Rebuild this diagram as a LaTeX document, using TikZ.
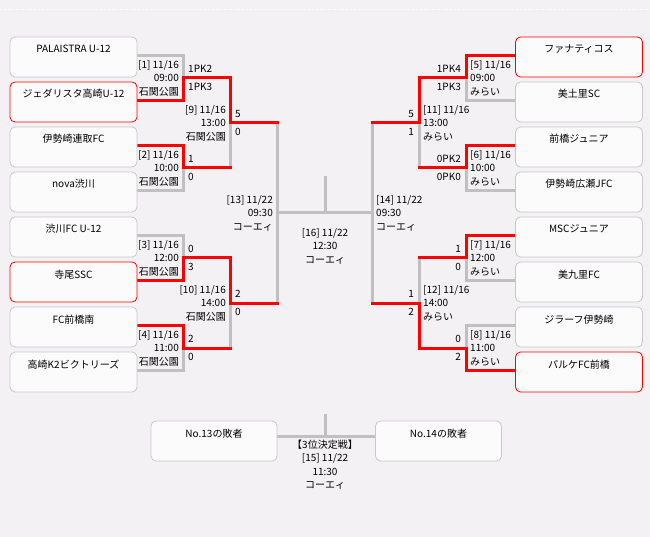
\documentclass[tikz,border=0pt]{standalone}
\usepackage{fontspec}
\setmainfont{Noto Sans CJK JP}
\usetikzlibrary{backgrounds}
\definecolor{bgc}{RGB}{243,241,244}
\definecolor{boxfill}{RGB}{251,251,251}
\definecolor{boxgrey}{RGB}{200,200,200}
\definecolor{linegrey}{RGB}{192,192,192}
\definecolor{winred}{RGB}{255,0,0}
\begin{document}
\begin{tikzpicture}[x=1pt,y=-1pt,
  font=\fontsize{10pt}{13.5pt}\selectfont,
  team/.style={draw=boxgrey, fill=boxfill, rounded corners=5pt, line width=0.8pt,
    minimum width=127pt, minimum height=40pt, inner sep=0pt,
    text height=11pt, text depth=19pt},
  winbox/.style={team, draw=winred},
  infoL/.style={align=right, anchor=east, inner sep=0pt},
  infoR/.style={align=left, anchor=west, inner sep=0pt},
  infoC/.style={align=center, inner sep=0pt},
  scL/.style={anchor=west, inner sep=0pt},
  scR/.style={anchor=east, inner sep=0pt},
  gl/.style={draw=linegrey, line width=3pt, line cap=rect},
  rl/.style={draw=winred, line width=3pt, line cap=rect}]
\useasboundingbox (0,0) rectangle (650,537);

% teams left
\node[team]   (t1) at (73.5,57)  {PALAISTRA U-12};
\node[winbox] (t2) at (73.5,102) {ジェダリスタ高崎U-12};
\node[team]   (t3) at (73.5,147) {伊勢崎連取FC};
\node[team]   (t4) at (73.5,192) {nova渋川};
\node[team]   (t5) at (73.5,237) {渋川FC U-12};
\node[winbox] (t6) at (73.5,282) {寺尾SSC};
\node[team]   (t7) at (73.5,327) {FC前橋南};
\node[team]   (t8) at (73.5,372) {高崎K2ビクトリーズ};
% teams right
\node[winbox] (r1) at (579,57)  {ファナティコス};
\node[team]   (r2) at (579,102) {美土里SC};
\node[team]   (r3) at (579,147) {前橋ジュニア};
\node[team]   (r4) at (579,192) {伊勢崎広瀬JFC};
\node[team]   (r5) at (579,237) {MSCジュニア};
\node[team]   (r6) at (579,282) {美九里FC};
\node[team]   (r7) at (579,327) {ジラーフ伊勢崎};
\node[winbox] (r8) at (579,372) {パルケFC前橋};
% third place boxes
\node[team, minimum width=126pt] (n13) at (214,441)   {No.13の敗者};
\node[team, minimum width=126pt] (n14) at (438.5,441) {No.14の敗者};

% line ends at boxes
\foreach \i in {1,...,8}{
  \path ([yshift=1.5pt]t\i.east) coordinate (a\i);
  \path ([yshift=1.5pt]r\i.west) coordinate (b\i);
}
\path ([yshift=5pt]n13.east) coordinate (e13);
\path ([yshift=5pt]n14.west) coordinate (e14);

% match junctions
\coordinate (m1) at (183,78);
\coordinate (m2) at (183,168);
\coordinate (m3) at (183,258);
\coordinate (m4) at (183,348);
\coordinate (m9) at (230,123);
\coordinate (m10) at (230,303);
\coordinate (m13) at (277,213);
\coordinate (m5) at (466,78);
\coordinate (m6) at (466,168);
\coordinate (m7) at (466,258);
\coordinate (m8) at (466,348);
\coordinate (m11) at (419,123);
\coordinate (m12) at (419,303);
\coordinate (m14) at (372,213);
\coordinate (c16) at (325,178);
\coordinate (c15) at (325,415);

% match info
\node[infoL] (i1) at (179,78)  {[1] 11/16\\09:00\\石関公園};
\node[infoL] (i2) at (179,168) {[2] 11/16\\10:00\\石関公園};
\node[infoL] (i3) at (179,258) {[3] 11/16\\12:00\\石関公園};
\node[infoL] (i4) at (179,348) {[4] 11/16\\11:00\\石関公園};
\node[infoL] (i9) at (226,123) {[9] 11/16\\13:00\\石関公園};
\node[infoL] (i10) at (226,303) {[10] 11/16\\14:00\\石関公園};
\node[infoL] (i13) at (273,213) {[13] 11/22\\09:30\\コーエィ};
\node[infoR] (i5) at (470,78)  {[5] 11/16\\09:00\\みらい};
\node[infoR] (i6) at (470,168) {[6] 11/16\\10:00\\みらい};
\node[infoR] (i7) at (470,258) {[7] 11/16\\12:00\\みらい};
\node[infoR] (i8) at (470,348) {[8] 11/16\\11:00\\みらい};
\node[infoR] (i11) at (423,123) {[11] 11/16\\13:00\\みらい};
\node[infoR] (i12) at (423,303) {[12] 11/16\\14:00\\みらい};
\node[infoR] (i14) at (376,213) {[14] 11/22\\09:30\\コーエィ};
\node[infoC] (i16) at (325,246) {[16] 11/22\\12:30\\コーエィ};
\node[infoC] (i15) at (325,464.5) {【3位決定戦】\\{}[15] 11/22\\11:30\\コーエィ};

% scores left
\node[scL] (s1a) at (188,69) {1PK2};  \node[scL] (s1b) at (188,87) {1PK3};
\node[scL] (s2a) at (188,159) {1};    \node[scL] (s2b) at (188,177) {0};
\node[scL] (s3a) at (188,249) {0};    \node[scL] (s3b) at (188,267) {3};
\node[scL] (s4a) at (188,339) {2};    \node[scL] (s4b) at (188,357) {0};
\node[scL] (s9a) at (235,114) {5};    \node[scL] (s9b) at (235,132) {0};
\node[scL] (s10a) at (235,294) {2};   \node[scL] (s10b) at (235,312) {0};
% scores right
\node[scR] (s5a) at (461,69) {1PK4};  \node[scR] (s5b) at (461,87) {1PK3};
\node[scR] (s6a) at (461,159) {0PK2}; \node[scR] (s6b) at (461,177) {0PK0};
\node[scR] (s7a) at (461,249) {1};    \node[scR] (s7b) at (461,267) {0};
\node[scR] (s8a) at (461,339) {0};    \node[scR] (s8b) at (461,357) {2};
\node[scR] (s11a) at (414,114) {5};   \node[scR] (s11b) at (414,132) {1};
\node[scR] (s12a) at (414,294) {1};   \node[scR] (s12b) at (414,312) {2};

\begin{scope}[on background layer]
\fill[bgc] (0,0) rectangle (650,537);
\draw[white, dotted, line width=0.6pt] (0,9.5) -- (650,9.5);
% grey connectors
\draw[gl] (a1) -| (m1);
\draw[gl] (a4) -| (m2);
\draw[gl] (a5) -| (m3);
\draw[gl] (a8) -| (m4);
\draw[gl] (m2 -| m9) -- (m9);
\draw[gl] (m4 -| m10) -- (m10);
\draw[gl] (m9 -| m13) -- (m10 -| m13);
\draw[gl] (b2) -| (m5);
\draw[gl] (b4) -| (m6);
\draw[gl] (b6) -| (m7);
\draw[gl] (b7) -| (m8);
\draw[gl] (m6 -| m11) -- (m11);
\draw[gl] (m7 -| m12) -- (m12);
\draw[gl] (m11 -| m14) -- (m12 -| m14);
\draw[gl] (m13) -- (m14);
\draw[gl] (c16) -- (c16 |- m13);
\draw[gl] (e13) -- (e14);
\draw[gl] (c15) -- (c15 |- e13);
% red connectors
\draw[rl] (a2) -| (m1) -| (m9) -- (m9 -| m13);
\draw[rl] (a3) -| (m2) -- (m2 -| m9);
\draw[rl] (a6) -| (m3) -| (m10) -- (m10 -| m13);
\draw[rl] (a7) -| (m4) -- (m4 -| m10);
\draw[rl] (b1) -| (m5) -| (m11) -- (m11 -| m14);
\draw[rl] (b3) -| (m6) -- (m6 -| m11);
\draw[rl] (b5) -| (m7) -- (m7 -| m12);
\draw[rl] (b8) -| (m8) -| (m12) -- (m12 -| m14);
\end{scope}
\end{tikzpicture}
\end{document}
